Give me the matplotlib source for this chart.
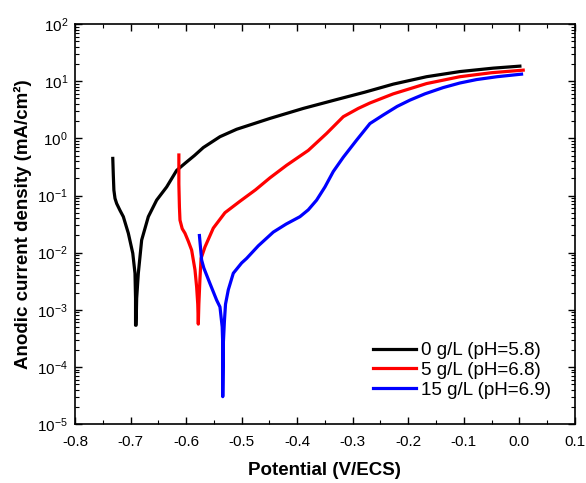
import numpy as np
import matplotlib.pyplot as plt
from matplotlib.ticker import LogLocator, MultipleLocator, NullFormatter

plt.rcParams['font.family'] = ['Liberation Sans', 'DejaVu Sans']
plt.rcParams['mathtext.default'] = 'regular'

# potential (V/ECS) and log10 of current density (mA/cm2)
E_0 = [-0.732, -0.731, -0.730, -0.728, -0.725, -0.719, -0.713, -0.704, -0.696, -0.692,
       -0.691, -0.691, -0.690, -0.689, -0.686, -0.680, -0.668, -0.653, -0.635, -0.617,
       -0.600, -0.585, -0.569, -0.539, -0.509, -0.449, -0.389, -0.329, -0.278, -0.227,
       -0.167, -0.107, -0.047, 0.001]
logj_0 = [-0.35, -0.65, -0.905, -1.05, -1.14, -1.26, -1.37, -1.66, -2.01, -2.36,
          -2.80, -3.27, -3.27, -2.80, -2.36, -1.78, -1.37, -1.08, -0.85, -0.56,
          -0.42, -0.30, -0.16, 0.03, 0.16, 0.35, 0.525, 0.68, 0.81, 0.95,
          1.08, 1.17, 1.23, 1.265]

E_5 = [-0.613, -0.613, -0.612, -0.611, -0.607, -0.602, -0.596, -0.590, -0.584, -0.581,
       -0.579, -0.578, -0.577, -0.575, -0.573, -0.566, -0.551, -0.530, -0.503, -0.475,
       -0.449, -0.419, -0.380, -0.347, -0.317, -0.290, -0.269, -0.227, -0.167, -0.107,
       -0.050, 0.007]
logj_5 = [-0.29, -0.80, -1.20, -1.43, -1.58, -1.66, -1.80, -1.955, -2.30, -2.60,
          -2.90, -3.25, -2.90, -2.45, -2.10, -1.90, -1.57, -1.30, -1.10, -0.90,
          -0.69, -0.47, -0.21, 0.087, 0.38, 0.525, 0.62, 0.78, 0.96, 1.08,
          1.15, 1.195]

E_15 = [-0.576, -0.572, -0.568, -0.557, -0.545, -0.539, -0.535, -0.534, -0.534, -0.533,
        -0.531, -0.529, -0.524, -0.515, -0.500, -0.491, -0.470, -0.443, -0.420, -0.395,
        -0.380, -0.365, -0.350, -0.335, -0.317, -0.305, -0.293, -0.269, -0.245, -0.220,
        -0.197, -0.170, -0.137, -0.107, -0.077, -0.040, 0.004]
logj_15 = [-1.70, -2.13, -2.27, -2.54, -2.83, -2.95, -3.30, -3.60, -4.52, -3.60,
           -3.20, -2.90, -2.65, -2.36, -2.18, -2.10, -1.88, -1.64, -1.50, -1.37,
           -1.25, -1.08, -0.85, -0.58, -0.33, -0.18, -0.03, 0.26, 0.41, 0.56,
           0.67, 0.78, 0.89, 0.97, 1.03, 1.08, 1.125]

labels = ['0 g/L (pH=5.8)', '5 g/L (pH=6.8)', '15 g/L (pH=6.9)']
colors = ['black', '#ff0000', '#0000ff']
xticks = [-0.8, -0.7, -0.6, -0.5, -0.4, -0.3, -0.2, -0.1, 0.0, 0.1]

fig = plt.figure(figsize=(5.86, 4.83), dpi=100)
ax = fig.add_axes([0.128, 0.122, 0.853, 0.828])

for E, lj, lab, c in zip([E_0, E_5, E_15], [logj_0, logj_5, logj_15], labels, colors):
    ax.plot(E, 10 ** np.array(lj), color=c, linewidth=2.3, label=lab,
            solid_joinstyle='round')

ax.set_yscale('log')
ax.set_xlim(-0.8, 0.1)
ax.set_ylim(1e-5, 1e2)
ax.set_xticks(xticks)
ax.set_xticklabels(['%.1f' % abs(v) if v == 0 else '%.1f' % v for v in xticks])
ax.xaxis.set_minor_locator(MultipleLocator(0.05))
ax.yaxis.set_major_locator(LogLocator(base=10, numticks=100))
ax.yaxis.set_minor_locator(LogLocator(base=10, subs=np.arange(2, 10), numticks=100))
ax.yaxis.set_minor_formatter(NullFormatter())

ax.tick_params(which='both', direction='in', top=True, right=True, labelsize=11)
ax.tick_params(which='major', length=5, width=1)
ax.tick_params(which='minor', length=3, width=0.8)
ax.tick_params(axis='x', which='major', pad=8)
ax.tick_params(axis='y', which='major', pad=5)
for s in ax.spines.values():
    s.set_linewidth(1.2)

ax.set_xlabel('Potential (V/ECS)', fontsize=13.5, fontweight='bold', labelpad=9)
ax.set_ylabel('Anodic current density (mA/cm²)', fontsize=13.5, fontweight='bold', labelpad=4)

ax.legend(loc='lower right', bbox_to_anchor=(0.967, 0.044), borderaxespad=0,
          frameon=False, fontsize=13.5, handlelength=2.3, handletextpad=0.27,
          labelspacing=0.15)

plt.savefig('out.png', dpi=100)
plt.close()
